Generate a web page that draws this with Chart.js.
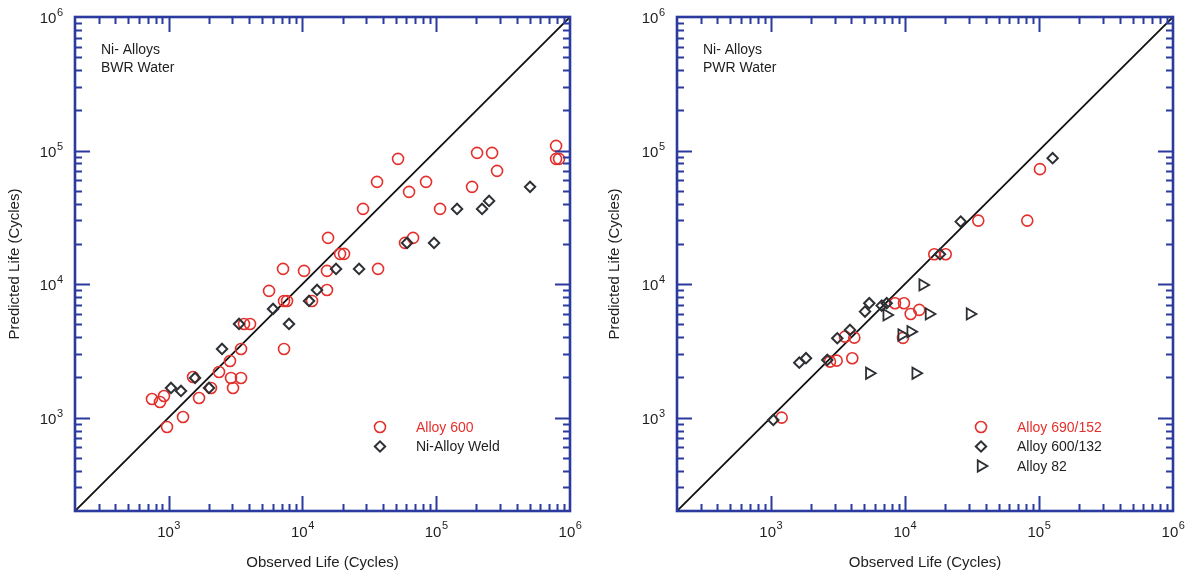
<!DOCTYPE html>
<html>
<head>
<meta charset="utf-8">
<script src="https://cdn.jsdelivr.net/npm/chart.js"></script>
<style>
  html, body { margin: 0; padding: 0; background: #ffffff; }
  #wrap { position: relative; width: 1192px; height: 574px; overflow: hidden; }
  canvas { position: absolute; top: 0; }
</style>
</head>
<body>
<div id="wrap">
  <canvas id="bwr" width="600" height="574" style="left:0px"></canvas>
  <canvas id="pwr" width="592" height="574" style="left:600px"></canvas>
</div>
<script>
// ---------------- DATA ----------------
// Axis range and tick labels (log scale): label = base with superscript exponent
const axisMin = 200;
const axisMax = 1e6;
const tickValues = [1e3, 1e4, 1e5, 1e6];
const tickBase = '10';
const tickExponents = ['3', '4', '5', '6'];

// Left panel: Ni- Alloys, BWR Water
const bwrAlloy600Observed = [752, 863, 925, 974, 1283, 1524, 1690, 2076, 2384, 2879, 2930, 3481, 3033, 3481, 3664, 4064,
  7295, 5636, 7172, 7295, 7682, 10292, 15280, 15280, 15560, 19130, 20490, 11810, 28400, 36140, 36780,
  51880, 62690, 67200, 58500, 83990, 106900, 185400, 202100, 261600, 285100, 787000, 787000, 828300];
const bwrAlloy600Predicted = [1380, 1311, 1453, 852, 1012, 2017, 1404, 1669, 2199, 2659, 1983, 1983, 1669, 3270, 5031, 5031,
  3270, 8892, 12994, 7482, 7482, 12560, 12560, 9040, 22180, 16830, 16830, 7482, 36560, 58250, 12994,
  86650, 49040, 22180, 20350, 58250, 36560, 53460, 96070, 96070, 70430, 108400, 86650, 86650];
const bwrWeldObserved = [1043, 1239, 1578, 2007, 2510, 3363, 6039, 7947, 11220, 12870, 17850, 26530, 60560, 96400, 143200, 220300, 248500, 503000];
const bwrWeldPredicted = [1669, 1585, 1983, 1669, 3270, 5031, 6518, 5031, 7482, 9040, 12994, 12994, 20350, 20350, 36560, 36560, 41980, 53460];

// Right panel: Ni- Alloys, PWR Water
const pwrAlloy690Observed = [1207, 2767, 3104, 4057, 3579, 4200, 8450, 9857, 11060, 12820, 16590, 20180, 35300, 81880, 101800, 9690];
const pwrAlloy690Predicted = [1000, 2627, 2673, 2786, 4043, 3972, 7192, 7192, 5979, 6408, 16740, 16740, 29890, 29890, 72550, 3954];
const pwrAlloy600Observed = [1045, 1633, 1833, 2641, 3136, 3900, 5045, 5433, 6722, 7325, 18290, 26100, 126600];
const pwrAlloy600Predicted = [961, 2581, 2786, 2705, 3932, 4539, 6223, 7192, 6902, 7192, 16740, 29380, 87700];
const pwrAlloy82Observed = [13590, 7325, 15140, 30620, 9476, 11060, 5433, 12050];
const pwrAlloy82Predicted = [9860, 5877, 5979, 5979, 4161, 4406, 2150, 2150];

// ---------------- STYLE ----------------
const FONT = '"Liberation Sans", Arial, Helvetica, sans-serif';
const AXIS_BLUE = '#2b3a9e';
const RED = '#e4302c';
const DARK = '#2c3034';
const TEXT = '#1e1e1e';

function pts(xs, ys) { return xs.map((v, i) => ({ x: v, y: ys[i] })); }

// Frame with inward ticks on all four sides, power-of-ten tick labels, notes and an in-plot legend
const framePlugin = {
  id: 'frameTicks',
  afterDatasetsDraw(chart, args, opts) {
    const { ctx, chartArea: a, scales: { x, y } } = chart;
    ctx.save();
    ctx.strokeStyle = AXIS_BLUE;
    ctx.lineWidth = 2;
    ctx.lineCap = 'butt';
    for (let d = 2; d <= 6; d++) {
      for (let m = 1; m <= 9; m++) {
        const v = m * Math.pow(10, d);
        if (v <= axisMin || v >= axisMax) continue;
        const L = (m === 1) ? 15 : 7;
        const px = Math.round(x.getPixelForValue(v)) + 0.5;
        const py = Math.round(y.getPixelForValue(v)) + 0.5;
        ctx.beginPath();
        ctx.moveTo(px, a.bottom); ctx.lineTo(px, a.bottom - L);
        ctx.moveTo(px, a.top); ctx.lineTo(px, a.top + L);
        ctx.moveTo(a.left, py); ctx.lineTo(a.left + L, py);
        ctx.moveTo(a.right, py); ctx.lineTo(a.right - L, py);
        ctx.stroke();
      }
    }
    ctx.lineWidth = 2.6;
    ctx.strokeRect(a.left, a.top, a.right - a.left, a.bottom - a.top);

    // tick labels 10^n
    const baseFont = '15px ' + FONT, expFont = '11px ' + FONT;
    ctx.fillStyle = TEXT;
    ctx.textBaseline = 'middle';
    ctx.textAlign = 'left';
    tickValues.forEach((v, i) => {
      const e = tickExponents[i];
      ctx.font = baseFont; const wb = ctx.measureText(tickBase).width;
      ctx.font = expFont; const we = ctx.measureText(e).width;
      // x axis
      const px = x.getPixelForValue(v);
      const sx = px - (wb + we) / 2;
      ctx.font = baseFont; ctx.fillText(tickBase, sx, a.bottom + 22);
      ctx.font = expFont; ctx.fillText(e, sx + wb + 0.5, a.bottom + 15);
      // y axis
      const py = y.getPixelForValue(v);
      const ex = a.left - 12 - we;
      ctx.font = baseFont; ctx.fillText(tickBase, ex - wb - 0.5, py + 2);
      ctx.font = expFont; ctx.fillText(e, ex, py - 4);
    });

    // notes
    ctx.fillStyle = TEXT;
    ctx.font = '14px ' + FONT;
    opts.notes.forEach((t, i) => ctx.fillText(t, a.left + 26, a.top + 33 + i * 18.5));

    // legend
    const lx = a.left + opts.legendX;
    opts.legend.forEach((item, i) => {
      const ly = a.top + 410 + i * 19.5;
      const ds = chart.data.datasets[item.ds];
      ctx.strokeStyle = ds.borderColor;
      ctx.lineWidth = ds.borderWidth;
      ctx.beginPath();
      const r = ds.pointRadius;
      if (ds.pointStyle === 'circle') {
        ctx.arc(lx, ly, r, 0, Math.PI * 2);
      } else if (ds.pointStyle === 'rectRot') {
        ctx.moveTo(lx - r, ly); ctx.lineTo(lx, ly - r); ctx.lineTo(lx + r, ly); ctx.lineTo(lx, ly + r); ctx.closePath();
      } else {
        ctx.moveTo(lx + r, ly);
        ctx.lineTo(lx - r * 0.5, ly - r * 0.866);
        ctx.lineTo(lx - r * 0.5, ly + r * 0.866);
        ctx.closePath();
      }
      ctx.stroke();
      ctx.fillStyle = item.color;
      ctx.font = '14px ' + FONT;
      ctx.fillText(item.text, lx + 36, ly + 1);
    });
    ctx.restore();
  }
};

function makeChart(id, padRight, leftW, datasets, notes, legend, legendX) {
  const diag = {
    type: 'line',
    data: [{ x: axisMin, y: axisMin }, { x: axisMax, y: axisMax }],
    borderColor: '#111111',
    borderWidth: 1.8,
    pointRadius: 0,
    fill: false,
    order: 10
  };
  const axisTitleFont = { family: FONT, size: 15 };
  return new Chart(document.getElementById(id), {
    type: 'scatter',
    data: { datasets: datasets.concat([diag]) },
    plugins: [framePlugin],
    options: {
      responsive: false,
      animation: false,
      devicePixelRatio: 1,
      layout: { padding: { top: 17, right: padRight, left: 0, bottom: 0 } },
      plugins: {
        legend: { display: false },
        tooltip: { enabled: false },
        frameTicks: { notes: notes, legend: legend, legendX: legendX }
      },
      scales: {
        x: {
          type: 'logarithmic',
          min: axisMin, max: axisMax,
          border: { display: false },
          grid: { display: false, drawTicks: false },
          afterBuildTicks: (s) => { s.ticks = tickValues.map(v => ({ value: v })); },
          afterFit: (s) => { s.height = 63; },
          ticks: {
            display: false,
            callback: (v) => { const i = tickValues.indexOf(v); return i >= 0 ? tickBase + tickExponents[i] : ''; }
          },
          title: {
            display: true, text: 'Observed Life (Cycles)', color: TEXT,
            font: axisTitleFont, padding: { top: 0, bottom: 2 }
          }
        },
        y: {
          type: 'logarithmic',
          min: axisMin, max: axisMax,
          border: { display: false },
          grid: { display: false, drawTicks: false },
          afterBuildTicks: (s) => { s.ticks = tickValues.map(v => ({ value: v })); },
          afterFit: (s) => { s.width = leftW; },
          ticks: {
            display: false,
            callback: (v) => { const i = tickValues.indexOf(v); return i >= 0 ? tickBase + tickExponents[i] : ''; }
          },
          title: {
            display: true, text: 'Predicted Life (Cycles)', color: TEXT,
            font: axisTitleFont, padding: { top: 6, bottom: 0 }
          }
        }
      }
    }
  });
}

const circleStyle = (xs, ys, label) => ({
  label: label, data: pts(xs, ys), pointStyle: 'circle', pointRadius: 5.5,
  borderColor: RED, backgroundColor: 'rgba(0,0,0,0)', borderWidth: 1.6, order: 2
});
const diamondStyle = (xs, ys, label) => ({
  label: label, data: pts(xs, ys), pointStyle: 'rectRot', pointRadius: 5.2,
  borderColor: DARK, backgroundColor: 'rgba(0,0,0,0)', borderWidth: 2, order: 1
});
const triangleStyle = (xs, ys, label) => ({
  label: label, data: pts(xs, ys), pointStyle: 'triangle', pointRotation: 90, pointRadius: 6.5,
  borderColor: DARK, backgroundColor: 'rgba(0,0,0,0)', borderWidth: 1.8, order: 1
});

makeChart('bwr', 30, 75,
  [circleStyle(bwrAlloy600Observed, bwrAlloy600Predicted, 'Alloy 600'),
   diamondStyle(bwrWeldObserved, bwrWeldPredicted, 'Ni-Alloy Weld')],
  ['Ni- Alloys', 'BWR Water'],
  [{ ds: 0, text: 'Alloy 600', color: RED }, { ds: 1, text: 'Ni-Alloy Weld', color: TEXT }],
  305);

makeChart('pwr', 19, 77,
  [circleStyle(pwrAlloy690Observed, pwrAlloy690Predicted, 'Alloy 690/152'),
   diamondStyle(pwrAlloy600Observed, pwrAlloy600Predicted, 'Alloy 600/132'),
   triangleStyle(pwrAlloy82Observed, pwrAlloy82Predicted, 'Alloy 82')],
  ['Ni- Alloys', 'PWR Water'],
  [{ ds: 0, text: 'Alloy 690/152', color: RED }, { ds: 1, text: 'Alloy 600/132', color: TEXT }, { ds: 2, text: 'Alloy 82', color: TEXT }],
  304);
</script>
</body>
</html>
